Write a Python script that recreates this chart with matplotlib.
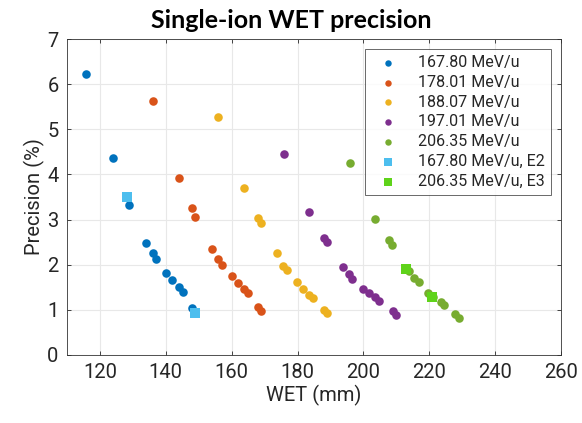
import matplotlib
matplotlib.use("Agg")
import matplotlib.pyplot as plt

plt.rcParams['font.family'] = ['Roboto', 'DejaVu Sans']

labels = ["167.80 MeV/u", "178.01 MeV/u", "188.07 MeV/u", "197.01 MeV/u",
          "206.35 MeV/u", "167.80 MeV/u, E2", "206.35 MeV/u, E3"]

wet_16780 = [115.8, 123.9, 128.9, 133.9, 136.1, 137.1, 140.0, 142.0, 143.9, 145.1, 148.0, 148.8]
prec_16780 = [6.22, 4.37, 3.33, 2.49, 2.25, 2.13, 1.81, 1.66, 1.51, 1.39, 1.03, 0.96]

wet_17801 = [136.0, 143.9, 148.0, 149.0, 153.9, 155.8, 157.0, 160.1, 161.9, 163.8, 165.0, 168.0, 168.8]
prec_17801 = [5.62, 3.91, 3.25, 3.06, 2.34, 2.13, 2.00, 1.75, 1.60, 1.46, 1.37, 1.06, 0.98]

wet_18807 = [156.0, 163.7, 168.0, 168.8, 173.8, 175.5, 176.8, 179.8, 181.6, 183.6, 184.8, 188.1, 188.9]
prec_18807 = [5.27, 3.70, 3.03, 2.93, 2.25, 1.98, 1.88, 1.62, 1.46, 1.33, 1.26, 1.00, 0.92]

wet_19701 = [175.8, 183.6, 187.9, 188.9, 193.7, 195.5, 196.6, 199.8, 201.6, 203.6, 204.8, 208.9, 209.9]
prec_19701 = [4.46, 3.17, 2.59, 2.50, 1.96, 1.79, 1.68, 1.46, 1.38, 1.28, 1.20, 0.97, 0.89]

wet_20635 = [195.8, 203.5, 207.7, 208.7, 213.7, 215.5, 216.8, 219.7, 221.0, 223.5, 224.5, 227.9, 228.9]
prec_20635 = [4.26, 3.02, 2.54, 2.43, 1.87, 1.70, 1.61, 1.37, 1.28, 1.18, 1.11, 0.91, 0.83]

wet_E2 = [128.2, 149.0]
prec_E2 = [3.50, 0.94]

wet_E3 = [212.9, 220.8]
prec_E3 = [1.90, 1.28]

circle_colors = ["#0072BD", "#D95319", "#EDB120", "#7E2F8E", "#77AC30"]
square_colors = ["#4DBEEE", "#5FD31A"]

xticks = [120, 140, 160, 180, 200, 220, 240, 260]
yticks = [0, 1, 2, 3, 4, 5, 6, 7]

fig = plt.figure(figsize=(5.82, 4.23), dpi=100)
ax = fig.add_axes([0.1151, 0.1608, 0.964 - 0.1151, 0.9078 - 0.1608])

circ = [(wet_16780, prec_16780), (wet_17801, prec_17801), (wet_18807, prec_18807),
        (wet_19701, prec_19701), (wet_20635, prec_20635)]
for (x, y), c, lab in zip(circ, circle_colors, labels[:5]):
    ax.scatter(x, y, s=38, color=c, marker='o', linewidths=0, label=lab, zorder=3)
for (x, y), c, lab in zip([(wet_E2, prec_E2), (wet_E3, prec_E3)], square_colors, labels[5:]):
    ax.scatter(x, y, s=58, color=c, marker='s', linewidths=0, label=lab, zorder=4)

ax.set_xlim(110, 260)
ax.set_ylim(0, 7)
ax.set_xticks(xticks)
ax.set_yticks(yticks)
ax.grid(True, color='#e8e8e8', linewidth=0.8, zorder=0)
ax.set_axisbelow(True)
ax.tick_params(direction='in', length=3, width=0.6, colors='#262626',
               top=True, right=True, labelsize=14.5, pad=6)
for sp in ax.spines.values():
    sp.set_color('#333333')
    sp.set_linewidth(0.6)

ax.set_xlabel("WET (mm)", fontsize=14.5, color='#262626', labelpad=2)
ax.set_ylabel("Precision (%)", fontsize=14.5, color='#262626', labelpad=2)
fig.text(0.5, 0.925, "Single-ion WET precision", fontsize=18, fontweight='bold',
         family=['Lato', 'DejaVu Sans'], ha='center', va='bottom')

leg = ax.legend(loc='upper right', fontsize=11.5, frameon=True, fancybox=False,
                edgecolor='#262626', borderaxespad=0.6, handletextpad=0.9,
                labelspacing=0.3, borderpad=0.4, scatterpoints=1, markerscale=0.75)
leg.get_frame().set_linewidth(0.6)
for t in leg.get_texts():
    t.set_color('#262626')

fig.savefig("out.png", dpi=100)
